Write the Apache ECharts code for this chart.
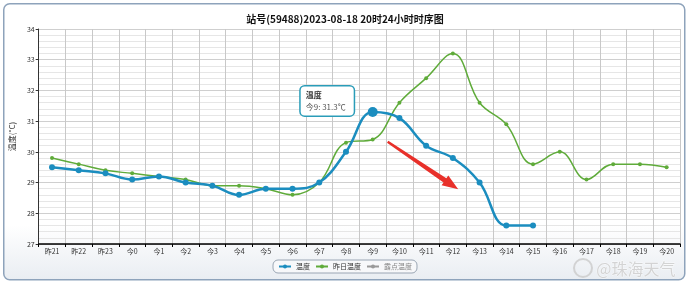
<!DOCTYPE html>
<html><head><meta charset="utf-8">
<script src="https://cdn.jsdelivr.net/npm/echarts@6/dist/echarts.min.js"></script>
<style>html,body{margin:0;padding:0;background:#fff}#c{width:690px;height:284px}</style>
</head><body><div id="c"></div>
<script>
var categories = ['昨21','昨22','昨23','今0','今1','今2','今3','今4','今5','今6','今7','今8','今9','今10','今11','今12','今13','今14','今15','今16','今17','今18','今19','今20'];
var tempToday = [29.5,29.4,29.3,29.1,29.2,29.0,28.9,28.6,28.8,28.8,29.0,30.0,31.3,31.1,30.2,29.8,29.0,27.6,27.6,null,null,null,null,null];
var tempYesterday = [29.8,29.6,29.4,29.3,29.2,29.1,28.9,28.9,28.8,28.6,29.0,30.3,30.4,31.6,32.4,33.2,31.6,30.9,29.6,30.0,29.1,29.6,29.6,29.5];
var dewPoint = [];
var yTicks = [27,28,29,30,31,32,33,34];
var highlightIndex = 12;
var arrowFrom = [12.56, 30.33];
var arrowTo = [15.2, 28.78];

var blue = '#1b8dbf', green = '#5fab3a';
var chart = echarts.init(document.getElementById('c'), null, {renderer:'canvas'});
var todayData = tempToday.map(function(v,i){
  if(i===highlightIndex){
    return {value:v, symbolSize:10, label:{show:true, position:'left', distance:14, offset:[0,-11],
      backgroundColor:'#fff', borderColor:'#2a9cb8', borderWidth:1.5, borderRadius:4, padding:[3,8,2,5],
      formatter:'{a|温度}\n{b|'+categories[i]+': '+v+'℃}',
      rich:{a:{fontSize:8,color:'#333',fontWeight:'bold',lineHeight:12,align:'left',fontFamily:'Noto Sans CJK SC'},
            b:{fontSize:8,color:'#555',lineHeight:12,align:'left',fontFamily:'Noto Sans CJK SC'}}}};
  }
  return v;
});
chart.setOption({
  animation:false,
  backgroundColor:'transparent',
  textStyle:{fontFamily:'Noto Sans CJK SC'},
  title:{text:'站号(59488)2023-08-18 20时24小时时序图', left:'center', top:9,
    textStyle:{fontSize:10,fontWeight:'bold',color:'#111',fontFamily:'Noto Sans CJK SC'}},
  grid:{left:36,right:10,top:29,bottom:40},
  legend:{bottom:11,left:'center',itemWidth:12,itemHeight:5,itemGap:5,
    borderColor:'#9aa6b4',borderWidth:1,borderRadius:5,padding:[3,5],
    backgroundColor:'#f7f8fa',
    textStyle:{fontSize:7,color:'#333'},
    data:[{name:'温度'},{name:'昨日温度'},{name:'露点温度',textStyle:{color:'#888'}}]},
  xAxis:{type:'category',data:categories,boundaryGap:true,
    axisLine:{lineStyle:{color:'#000',width:1.5}},
    axisTick:{show:true,length:3,lineStyle:{color:'#000'}},
    axisLabel:{fontSize:7,color:'#333',margin:4,interval:0},
    splitLine:{show:true,lineStyle:{color:'#c8c8c8',width:1}}},
  yAxis:{type:'value',min:yTicks[0],max:yTicks[yTicks.length-1],interval:1,
    name:'温度(°C)',nameLocation:'middle',nameGap:18,nameRotate:90,
    nameTextStyle:{fontSize:8,color:'#333'},
    axisLine:{show:true,lineStyle:{color:'#333',width:1}},
    axisTick:{show:true,length:3,lineStyle:{color:'#333'}},
    axisLabel:{fontSize:7,color:'#333',margin:4},
    splitLine:{show:true,lineStyle:{color:'#cfcfcf'}},
    minorTick:{show:false,splitNumber:5},
    minorSplitLine:{show:true,lineStyle:{color:'#e6e6e6'}}},
  series:[
    {name:'昨日温度',type:'line',smooth:0.4,data:tempYesterday,symbol:'circle',symbolSize:4,
      itemStyle:{color:green},lineStyle:{color:green,width:1.5},z:2},
    {name:'温度',type:'line',smooth:0.4,data:todayData,symbol:'circle',symbolSize:6,connectNulls:false,
      itemStyle:{color:blue},lineStyle:{color:blue,width:2.5},z:3},
    {name:'露点温度',type:'line',data:dewPoint,symbol:'circle',symbolSize:5,itemStyle:{color:'#999'},lineStyle:{color:'#999'}}
  ]
});
function px(p){
  var i0=Math.floor(p[0]), f=p[0]-i0;
  var a=chart.convertToPixel({gridIndex:0},[i0,p[1]]);
  var b=chart.convertToPixel({gridIndex:0},[i0+1,p[1]]);
  return [a[0]+(b[0]-a[0])*f, a[1]];
}
var s=px(arrowFrom), e=px(arrowTo);
var dx=e[0]-s[0], dy=e[1]-s[1], L=Math.sqrt(dx*dx+dy*dy), ux=dx/L, uy=dy/L, nx=-uy, ny=ux;
var hl=16, hw=6;
var base=[e[0]-ux*hl, e[1]-uy*hl];
chart.setOption({graphic:[
  {type:'rect',left:3,top:3,shape:{width:681,height:276,r:6},z:-10,silent:true,
    style:{fill:new echarts.graphic.LinearGradient(0,0,0,1,[{offset:0,color:'#ffffff'},{offset:0.8,color:'#ffffff'},{offset:1,color:'#e9edf2'}]),stroke:'#8ea3bb',lineWidth:1.5}},
  {type:'polygon',z:50,silent:true,shape:{points:[
     [s[0]+nx*1.2,s[1]+ny*1.2],[base[0]+nx*2.5,base[1]+ny*2.5],[base[0]+nx*hw,base[1]+ny*hw],
     e,[base[0]-nx*hw,base[1]-ny*hw],[base[0]-nx*2.5,base[1]-ny*2.5],[s[0]-nx*1.2,s[1]-ny*1.2]]},
   style:{fill:'#e8302a'}},
  {type:'text',right:14,bottom:7,z:60,silent:true,
   style:{text:'@珠海天气',fontSize:16,fill:'rgba(205,205,205,0.85)',stroke:'rgba(255,255,255,0.6)',lineWidth:1,fontFamily:'Noto Sans CJK SC'}},
  {type:'circle',z:60,silent:true,shape:{cx:583,cy:268,r:9},style:{fill:'none',stroke:'rgba(205,205,205,0.85)',lineWidth:2}}
]});
</script></body></html>
